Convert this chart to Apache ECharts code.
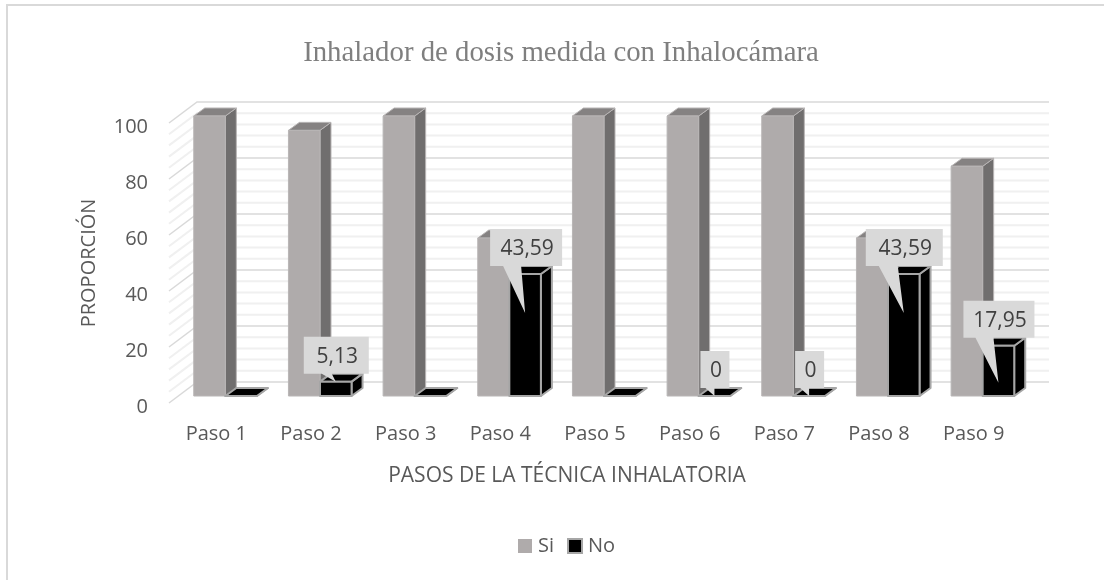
<!DOCTYPE html>
<html>
<head>
<meta charset="utf-8">
<title>Inhalador de dosis medida con Inhalocámara</title>
<script src="https://cdn.jsdelivr.net/npm/echarts@6/dist/echarts.min.js"></script>
<style>
  html, body { margin: 0; padding: 0; background: #fff; }
  #chart { width: 1104px; height: 580px; }
</style>
</head>
<body>
<div id="chart"></div>
<script>
const categories = ['Paso 1', 'Paso 2', 'Paso 3', 'Paso 4', 'Paso 5', 'Paso 6', 'Paso 7', 'Paso 8', 'Paso 9']
const siValues = [100, 94.87, 100, 56.41, 100, 100, 100, 56.41, 82.05]
const noValues = [0, 5.13, 0, 43.59, 0, 0, 0, 43.59, 17.95]
const labelledPasos = [1, 3, 5, 6, 7, 8]
const gridValues = [0, 4, 8, 12, 16, 20, 24, 28, 32, 36, 40, 44, 48, 52, 56, 60, 64, 68, 72, 76, 80, 84, 88, 92, 96, 100]

const font = '"Open Sans", sans-serif'
const textColor = '#595959'

// depth of the fake 3D box
const wallShiftY = 4
const wallDx = 28, wallDy = 21
const barShiftX = 9, barShiftY = 11
const depthX = 11, depthY = 8

// callout shape per labelled paso, relative to the top of the No bar
const callouts = {
  1: { l: -32, r: 33, tip: 0, bl: -14, br: -4 },
  3: { l: -35, r: 37, tip: 39, bl: -22, br: -4 },
  5: { l: -14, r: 15, tip: 0, bl: -9, br: 0 },
  6: { l: -14, r: 15, tip: 0, bl: -9, br: 0 },
  7: { l: -38, r: 39, tip: 39, bl: -25, br: -6 },
  8: { l: -35, r: 36, tip: 37, bl: -23, br: -5 },
}

function wallItem(params, api) {
  const v = api.value(0)
  const p = api.coord([0, v])
  const end = api.coord([categories.length - 1, v])
  const band = api.size([1, 0])[0]
  const x0 = p[0] - band / 2
  const x1 = end[0] + band / 2
  const y = p[1] - wallShiftY
  const major = v % 20 === 0
  return {
    type: 'polyline',
    shape: { points: [[x0, y], [x0 + wallDx, y - wallDy], [x1 + wallDx, y - wallDy]] },
    style: { fill: null, stroke: major ? '#d9d9d9' : '#f0f0f0', lineWidth: major ? 1.5 : 2 },
    silent: true,
  }
}

function boxItem(colors, side) {
  return function (params, api) {
    const p = api.coord([api.value(0), api.value(1)])
    const base = api.coord([api.value(0), 0])
    const w = api.size([1, 0])[0] / 3
    const l = p[0] + barShiftX + (side < 0 ? -w : 0)
    const r = l + w
    const t = p[1] - barShiftY
    const b = base[1] - barShiftY
    const stroke = { stroke: colors.stroke, lineWidth: colors.lineWidth, lineJoin: 'round' }
    return {
      type: 'group',
      children: [
        { type: 'polygon', shape: { points: [[r, t], [r + depthX, t - depthY], [r + depthX, b - depthY], [r, b]] }, style: { fill: colors.side, ...stroke } },
        { type: 'polygon', shape: { points: [[l, t], [r, t], [r + depthX, t - depthY], [l + depthX, t - depthY]] }, style: { fill: colors.top, ...stroke } },
        { type: 'rect', shape: { x: l, y: t, width: w, height: b - t }, style: { fill: colors.front, ...stroke } },
      ],
    }
  }
}

function calloutItem(params, api) {
  const i = api.value(0)
  const p = api.coord([i, api.value(1)])
  const w = api.size([1, 0])[0] / 3
  const x = p[0] + barShiftX + w / 2
  const y = p[1] - barShiftY
  const c = callouts[i]
  const top = y - 45, bottom = y - 8
  return {
    type: 'group',
    children: [
      {
        type: 'polygon',
        shape: {
          points: [[x + c.l, top], [x + c.r, top], [x + c.r, bottom], [x + c.br, bottom], [x, y + c.tip], [x + c.bl, bottom], [x + c.l, bottom]],
        },
        style: { fill: '#d9d9d9', stroke: null },
      },
      {
        type: 'text',
        style: {
          x: x + (c.l + c.r) / 2 + 1,
          y: (top + bottom) / 2 + 2,
          text: String(api.value(1)).replace('.', ','),
          fill: '#404040',
          font: '21px ' + font,
          align: 'center',
          verticalAlign: 'middle',
        },
      },
    ],
  }
}

const chart = echarts.init(document.getElementById('chart'))
chart.setOption({
  animation: false,
  backgroundColor: '#fff',
  title: {
    text: 'Inhalador de dosis medida con Inhalocámara',
    left: 556,
    top: 34,
    textAlign: 'center',
    textStyle: { fontFamily: '"Liberation Serif", serif', fontSize: 28.8, fontWeight: 'normal', color: '#7f7f7f' },
  },
  legend: {
    data: ['Si', 'No'],
    left: 513,
    top: 531,
    icon: 'rect',
    itemWidth: 14,
    itemHeight: 14,
    itemGap: 13,
    textStyle: { fontFamily: font, fontSize: 20, color: textColor, padding: [0, 0, 0, 1] },
  },
  grid: { left: 169, top: 127, width: 852, height: 280 },
  xAxis: {
    type: 'category',
    data: categories,
    name: 'PASOS DE LA TÉCNICA INHALATORIA',
    nameLocation: 'middle',
    nameGap: 59,
    nameTextStyle: { fontFamily: font, fontSize: 21, color: textColor, padding: [0, 56, 0, 0] },
    axisLine: { show: false },
    axisTick: { show: false },
    axisLabel: { fontFamily: font, fontSize: 20, color: textColor, margin: 17 },
  },
  yAxis: {
    type: 'value',
    min: 0,
    max: 100,
    interval: 20,
    name: 'PROPORCIÓN',
    nameLocation: 'middle',
    nameGap: 70,
    nameTextStyle: { fontFamily: font, fontSize: 20, color: textColor, padding: [0, 0, 0, 8] },
    axisLine: { show: false },
    axisTick: { show: false },
    splitLine: { show: false },
    axisLabel: { fontFamily: font, fontSize: 20, color: textColor, margin: 21 },
  },
  graphic: [
    {
      type: 'polyline',
      z: -1,
      silent: true,
      shape: { points: [[7, 580], [7, 5], [1104, 5]] },
      style: { fill: 'none', stroke: '#d9d9d9', lineWidth: 2 },
    },
  ],
  series: [
    {
      name: 'walls',
      type: 'custom',
      renderItem: wallItem,
      data: gridValues.map((v) => [v]),
      encode: { y: 0 },
      clip: false,
      silent: true,
      z: 1,
    },
    {
      name: 'Si',
      type: 'custom',
      renderItem: boxItem({ front: '#afabab', side: '#706e6e', top: '#858282', stroke: '#b8b5b5', lineWidth: 1 }, -1),
      data: siValues.map((v, i) => [i, v]),
      encode: { x: 0, y: 1 },
      itemStyle: { color: '#afabab' },
      clip: false,
      z: 2,
    },
    {
      name: 'No',
      type: 'custom',
      renderItem: boxItem({ front: '#000000', side: '#000000', top: '#000000', stroke: '#a6a6a6', lineWidth: 2 }, 1),
      data: noValues.map((v, i) => [i, v]),
      encode: { x: 0, y: 1 },
      itemStyle: { color: '#000000', borderColor: '#a6a6a6', borderWidth: 2 },
      clip: false,
      z: 3,
    },
    {
      name: 'callouts',
      type: 'custom',
      renderItem: calloutItem,
      data: labelledPasos.map((i) => [i, noValues[i]]),
      encode: { x: 0, y: 1 },
      clip: false,
      silent: true,
      z: 4,
    },
  ],
})
</script>
</body>
</html>
